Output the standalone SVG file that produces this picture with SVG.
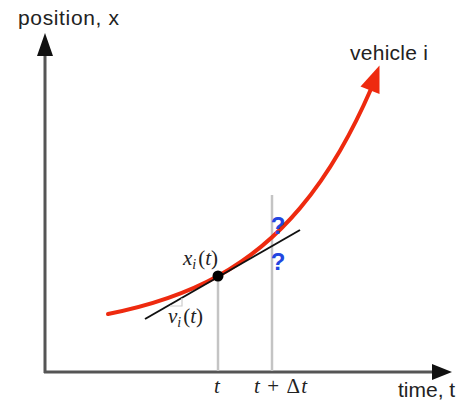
<svg xmlns="http://www.w3.org/2000/svg" width="460" height="402" viewBox="0 0 460 402">
<style>
.axis{stroke:#555;stroke-width:3;fill:none}
.axhead{fill:#111}
.guide{stroke:#c4c4c4;stroke-width:2.5;fill:none}
.lbl{font-family:"Liberation Sans",Arial,sans-serif;font-size:21px;fill:#222}
.math{font-family:"Liberation Serif","Times New Roman",serif;font-size:21px;fill:#222}
.it{font-style:italic}
.q{font-family:"Liberation Sans",Arial,sans-serif;font-size:24px;font-weight:bold;fill:#2246e0}
</style>
<rect width="460" height="402" fill="#fff"/>
<g id="connectors">
  <line class="axis" x1="45" y1="373" x2="45" y2="52"/>
  <polygon class="axhead" points="45,33 37,56 53,56"/>
  <line class="axis" x1="44" y1="372" x2="436" y2="372"/>
  <polygon class="axhead" points="452,372 432,364 432,380"/>
  <line class="guide" x1="218" y1="276" x2="218" y2="371"/>
  <line class="guide" x1="272" y1="195" x2="272" y2="371"/>
</g>
<g id="curve">
  <path d="M108,314 C144.67,306.74 181.33,296.24 218,276 C245.33,260.91 272.67,240.43 300,208.1 C313.33,192.33 326.67,173.59 340,150.7 C350.33,132.96 360.67,112.66 371,89" fill="none" stroke="#ee2a0f" stroke-width="4" stroke-linecap="round"/>
  <polygon points="379.5,65.5 360.5,86.5 379.5,94" fill="#ee2a0f"/>
</g>
<g id="tangent">
  <line x1="145" y1="319" x2="300" y2="230" stroke="#111" stroke-width="2"/>
  <polyline points="170,306 182,306 182,298" fill="none" stroke="#ccc" stroke-width="1.2"/>
</g>
<g id="point">
  <circle cx="218" cy="276" r="5.5" fill="#000"/>
  <text class="math" x="183" y="265"><tspan class="it">x</tspan><tspan class="it" font-size="14" dy="4">i</tspan><tspan dy="-4" dx="2">(</tspan><tspan class="it">t</tspan>)</text>
  <text class="math" x="168" y="323"><tspan class="it">v</tspan><tspan class="it" font-size="14" dy="4">i</tspan><tspan dy="-4" dx="2">(</tspan><tspan class="it">t</tspan>)</text>
</g>
<g id="questions">
  <text class="q" x="278" y="234" text-anchor="middle">?</text>
  <text class="q" x="278" y="270" text-anchor="middle">?</text>
</g>
<g id="labels">
  <text class="lbl" x="18" y="25" textLength="101">position, x</text>
  <text class="lbl" x="350" y="60" textLength="78">vehicle i</text>
  <text class="lbl" x="398" y="397">time, t</text>
  <text class="math it" x="217" y="393" text-anchor="middle">t</text>
  <text class="math" x="254" y="393" textLength="53"><tspan class="it">t</tspan> + Δ<tspan class="it">t</tspan></text>
</g>
</svg>
